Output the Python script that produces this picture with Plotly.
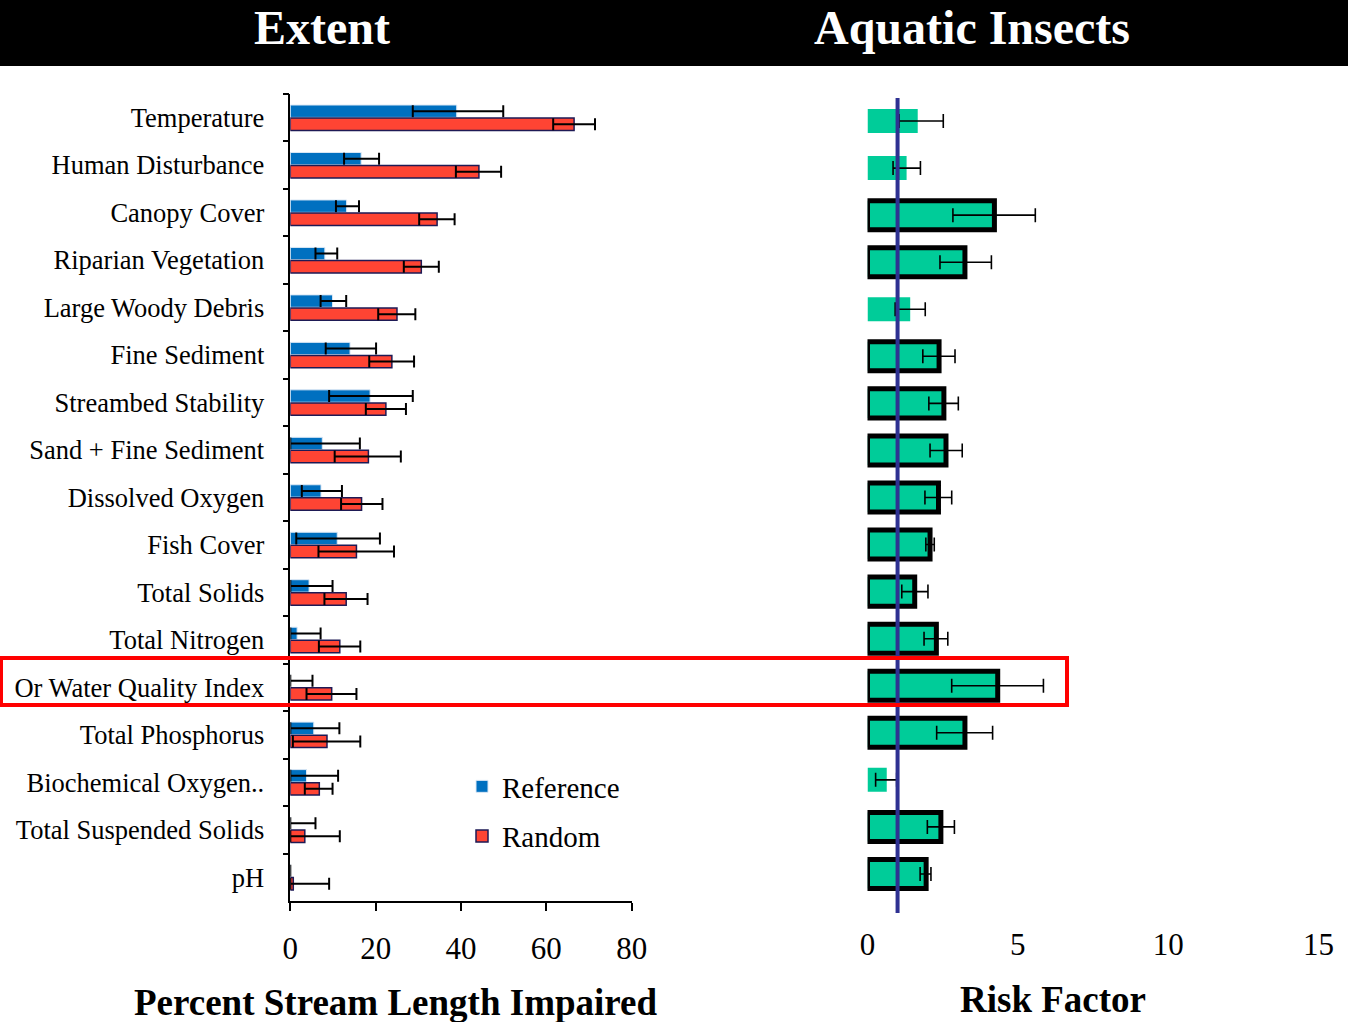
import plotly.graph_objects as go

categories = ["Temperature", "Human Disturbance", "Canopy Cover", "Riparian Vegetation",
              "Large Woody Debris", "Fine Sediment", "Streambed Stability",
              "Sand + Fine Sediment", "Dissolved Oxygen", "Fish Cover", "Total Solids",
              "Total Nitrogen", "Or Water Quality Index", "Total Phosphorus",
              "Biochemical Oxygen..", "Total Suspended Solids", "pH"]

# Extent: percent stream length impaired (value, lower and upper bounds)
ref_val = [39.0, 16.6, 13.2, 8.1, 9.9, 14.0, 18.7, 7.5, 7.2, 11.0, 4.4, 1.6, 0.0, 5.5, 3.8, 0.0, 0.0]
ref_lo = [28.7, 12.6, 10.7, 5.9, 7.1, 8.3, 9.1, 0.0, 2.7, 1.4, 0.0, 0.0, 0.0, 0.0, 0.0, 0.0, 0.0]
ref_hi = [49.9, 20.8, 16.1, 11.0, 13.1, 20.1, 28.7, 16.3, 12.1, 21.0, 9.9, 7.1, 5.2, 11.5, 11.2, 5.9, 0.0]

rnd_val = [66.5, 44.2, 34.4, 30.7, 25.0, 23.8, 22.4, 18.3, 16.7, 15.5, 13.1, 11.6, 9.7, 8.6, 6.8, 3.4, 0.7]
rnd_lo = [61.6, 38.8, 30.2, 26.6, 20.6, 18.5, 17.7, 10.4, 11.9, 6.6, 8.0, 6.7, 3.8, 0.6, 3.4, 0.0, 0.0]
rnd_hi = [71.4, 49.4, 38.5, 34.8, 29.3, 29.0, 27.1, 25.9, 21.6, 24.3, 18.1, 16.4, 15.5, 16.4, 9.9, 11.6, 9.1]

# Aquatic insects: risk factor
risk_val = [1.67, 1.30, 4.22, 3.24, 1.42, 2.38, 2.54, 2.61, 2.36, 2.08, 1.57, 2.29, 4.33, 3.24, 0.64, 2.44, 1.95]
risk_lo = [1.05, 0.85, 2.84, 2.41, 0.92, 1.84, 2.04, 2.08, 1.91, 1.94, 1.14, 1.88, 2.80, 2.30, 0.27, 1.99, 1.75]
risk_hi = [2.52, 1.76, 5.58, 4.12, 1.92, 2.91, 3.02, 3.15, 2.80, 2.22, 2.01, 2.67, 5.85, 4.16, 0.97, 2.89, 2.11]
risk_significant = [False, False, True, True, False, True, True, True, True, True, True, True, True, True, False, True, True]

x_ticks_left = [0, 20, 40, 60, 80]
x_ticks_right = [0, 5, 10, 15]

W, H = 1348, 1022
FONT = "Liberation Serif"

def px(x):
    return x / W

def py(y):
    return 1 - y / H

fig = go.Figure()

fig.add_trace(go.Bar(
    y=categories, x=ref_val, orientation="h", name="Reference",
    marker=dict(color="#0070C0", line=dict(color="#DCE8F5", width=1)),
    error_x=dict(type="data", symmetric=False,
                 array=[h - v for h, v in zip(ref_hi, ref_val)],
                 arrayminus=[v - l for v, l in zip(ref_val, ref_lo)],
                 color="black", thickness=2, width=6),
    xaxis="x", yaxis="y", legendgroup="a",
))
fig.add_trace(go.Bar(
    y=categories, x=rnd_val, orientation="h", name="Random",
    marker=dict(color="#FF4433", line=dict(color="#1E1A55", width=1.5)),
    error_x=dict(type="data", symmetric=False,
                 array=[h - v for h, v in zip(rnd_hi, rnd_val)],
                 arrayminus=[v - l for v, l in zip(rnd_val, rnd_lo)],
                 color="black", thickness=2, width=6),
    xaxis="x", yaxis="y", legendgroup="b",
))
fig.add_trace(go.Bar(
    y=categories, x=risk_val, orientation="h", name="Risk Factor",
    width=[0.617 if s else 0.51 for s in risk_significant],
    marker=dict(color="#00CC99",
                line=dict(color="black", width=[5 if s else 0 for s in risk_significant])),
    error_x=dict(type="data", symmetric=False,
                 array=[h - v for h, v in zip(risk_hi, risk_val)],
                 arrayminus=[v - l for v, l in zip(risk_val, risk_lo)],
                 color="black", thickness=1.6, width=7),
    xaxis="x2", yaxis="y2", showlegend=False,
))

fig.update_layout(
    width=W, height=H,
    margin=dict(l=0, r=0, t=0, b=0, autoexpand=False),
    paper_bgcolor="white", plot_bgcolor="white",
    barmode="group", bargap=0.45, bargroupgap=0.05,
    font=dict(family=FONT, color="black"),
    xaxis=dict(domain=[px(290.3), px(631.7)], range=[0, 80], tickvals=x_ticks_left,
               showline=True, linecolor="black", linewidth=1.5,
               ticks="outside", ticklen=8, tickwidth=1.5, tickcolor="black",
               showgrid=False, zeroline=False, tickfont=dict(size=31, family=FONT),
               ticklabelstandoff=11, anchor="y", automargin=False),
    yaxis=dict(domain=[py(901), py(94)], type="category", range=[16.5, -0.5],
               showline=True, linecolor="black", linewidth=1.5,
               ticks="outside", ticklen=6, tickwidth=1.5, tickcolor="black",
               tickson="boundaries", showgrid=False, zeroline=False,
               tickfont=dict(size=26.5, family=FONT), ticklabelstandoff=19, anchor="x",
               automargin=False),
    xaxis2=dict(domain=[px(867.5), px(1318.6)], range=[0, 15], tickvals=x_ticks_right,
                showline=False, ticks="", showgrid=False, zeroline=False,
                tickfont=dict(size=31, family=FONT), ticklabelstandoff=25, anchor="y2",
                automargin=False),
    yaxis2=dict(domain=[py(897.5), py(97.5)], type="category", range=[16.5, -0.5],
                showline=False, ticks="", showticklabels=False, showgrid=False,
                zeroline=False, anchor="x2", automargin=False),
    legend=dict(x=px(462), y=py(761), xanchor="left", yanchor="top",
                font=dict(size=29, family=FONT), bgcolor="rgba(0,0,0,0)",
                traceorder="grouped", tracegroupgap=9, itemwidth=30),
    shapes=[
        dict(type="rect", xref="paper", yref="paper", x0=0, x1=1, y0=py(66), y1=1,
             fillcolor="black", line=dict(width=0), layer="below"),
        dict(type="line", xref="x2", yref="paper", x0=1, x1=1, y0=py(913), y1=py(98),
             line=dict(color="#2E3192", width=4), layer="above"),
        dict(type="rect", xref="paper", yref="paper", x0=px(1), x1=px(1067),
             y0=py(705), y1=py(658), line=dict(color="#FF0000", width=4),
             fillcolor="rgba(0,0,0,0)", layer="above"),
    ],
    annotations=[
        dict(text="<b>Extent</b>", x=px(322), y=py(27), xref="paper", yref="paper",
             showarrow=False, xanchor="center", yanchor="middle",
             font=dict(size=48, color="white", family=FONT)),
        dict(text="<b>Aquatic Insects</b>", x=px(972), y=py(27), xref="paper", yref="paper",
             showarrow=False, xanchor="center", yanchor="middle",
             font=dict(size=48, color="white", family=FONT)),
        dict(text="<b>Percent Stream Length Impaired</b>", x=px(395), y=py(1002),
             xref="paper", yref="paper", showarrow=False, xanchor="center", yanchor="middle",
             font=dict(size=37, color="black", family=FONT)),
        dict(text="<b>Risk Factor</b>", x=px(1053), y=py(999),
             xref="paper", yref="paper", showarrow=False, xanchor="center", yanchor="middle",
             font=dict(size=37, color="black", family=FONT)),
    ],
)

fig.write_html("out.html", config={"displayModeBar": False},
               post_script="document.body.style.margin='0';document.body.style.overflow='hidden';")
